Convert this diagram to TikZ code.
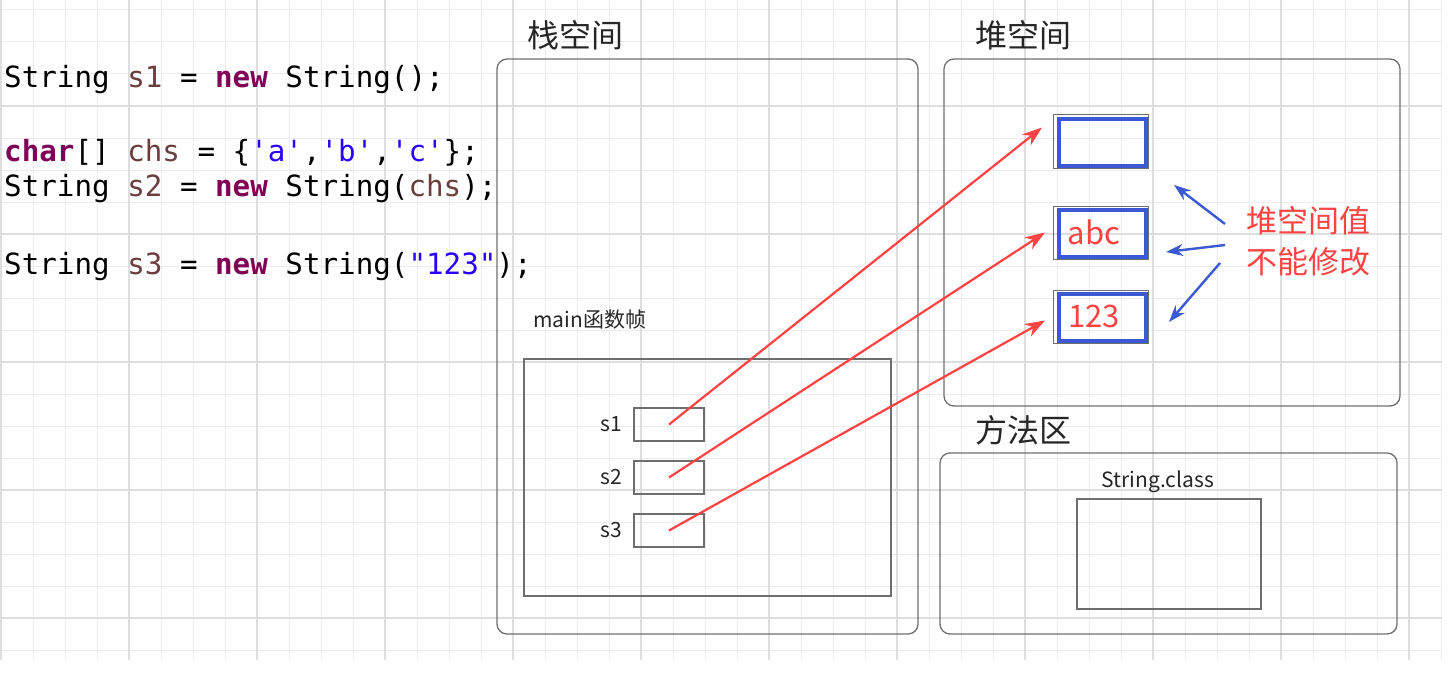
\documentclass[tikz,border=0pt]{standalone}
\usepackage{fontspec}
\setmainfont{Noto Sans CJK SC}
\newfontfamily\codefont{DejaVu Sans Mono}
\usetikzlibrary{positioning, arrows.meta}

\definecolor{codekw}{RGB}{127,0,85}
\definecolor{codevar}{RGB}{106,62,62}
\definecolor{codelit}{RGB}{42,0,255}
\definecolor{boxgray}{RGB}{110,110,110}
\definecolor{linkred}{RGB}{255,66,66}
\definecolor{heapblue}{RGB}{59,89,210}
\definecolor{gridminor}{RGB}{236,236,236}
\definecolor{gridmajor}{RGB}{222,222,222}

\newcommand{\kwd}[1]{\textcolor{codekw}{\bfseries #1}}
\newcommand{\vrb}[1]{\textcolor{codevar}{#1}}
\newcommand{\lit}[1]{\textcolor{codelit}{#1}}
\newcommand{\qt}{\textquotesingle}

\tikzset{
code/.style={anchor=base west, inner sep=0, font=\codefont\fontsize{29.2bp}{32bp}\selectfont},
title/.style={anchor=west, inner sep=0, font=\fontsize{32bp}{36bp}\selectfont, text=black!85},
small/.style={inner sep=0, font=\fontsize{21bp}{24bp}\selectfont, text=black!85},
region/.style={draw=boxgray, line width=1.3bp, rounded corners=10bp},
plain/.style={draw=boxgray, line width=1.3bp},
slot/.style={plain, minimum width=70bp, minimum height=33bp, inner sep=0},
cell/.style={draw=boxgray, line width=1bp, minimum width=95bp, minimum height=53bp, inner sep=0},
link/.style={draw=linkred, line width=2.2bp, -{Stealth[length=20bp, width=14bp]}},
hint/.style={draw=heapblue, line width=2.4bp, -{Stealth[length=17bp, width=12bp]}},
}

\begin{document}
\begin{tikzpicture}[x=1bp, y=-1bp]
\useasboundingbox (0,0) rectangle (1447,682);

% grid
\foreach \x in {1,33,...,1441}
\draw[gridminor, line width=1bp] (\x,0) -- (\x,660);
\foreach \y in {10,42,...,650}
\draw[gridminor, line width=1bp] (0,\y) -- (1442,\y);
\foreach \x in {1,129,...,1409}
\draw[gridmajor, line width=1.3bp] (\x,0) -- (\x,660);
\foreach \y in {106,234,...,618}
\draw[gridmajor, line width=1.3bp] (0,\y) -- (1442,\y);

% code
\node (c1) [code] at (4,88) {String \vrb{s1} = \kwd{new} String();};
\node (c2) [code] at (4,161) {\kwd{char}[] \vrb{chs} = \{\lit{\qt a\qt},\lit{\qt b\qt},\lit{\qt c\qt}\};};
\node (c3) [code] at (4,196) {String \vrb{s2} = \kwd{new} String(\vrb{chs});};
\node (c4) [code] at (4,274) {String \vrb{s3} = \kwd{new} String(\lit{"123"});};

% stack
\node (stack) [region, minimum width=421bp, minimum height=575bp] at (707.5,346.5) {};
\node (stackt) [title] at (527,35) {栈空间};
\node (frame) [plain, minimum width=367bp, minimum height=237bp] at (707.5,477.5) {};
\node (framet) [small, anchor=west] at (533,320) {main函数帧};

\foreach \i/\y in {1/424.5, 2/477.5, 3/530.5} {
\node (s\i) [slot] at (669,\y) {};
\node [small, left=11bp of s\i] {s\i};
}

% heap
\node (heap) [region, minimum width=456bp, minimum height=347bp] at (1172,232.5) {};
\node (heapt) [title] at (975,35) {堆空间};

\foreach \i/\y/\v in {1/141.5/{}, 2/232.5/abc, 3/316.5/123} {
\node (h\i) [cell] at (1101,\y) {};
\draw[heapblue, line width=4bp] ([xshift=5.5bp,yshift=-4.5bp]h\i.north west) rectangle ([xshift=-3bp,yshift=2.5bp]h\i.south east);
\node [inner sep=0, text=linkred, font=\fontsize{31bp}{34bp}\selectfont] at ([xshift=-7bp]h\i.center) {\v};
}

\node (note) [anchor=west, inner sep=0, align=left, text=linkred,
font=\fontsize{31bp}{41bp}\selectfont] at (1246,241) {堆空间值\\不能修改};

% method area
\node (meth) [region, minimum width=457bp, minimum height=181bp] at (1168.5,543.5) {};
\node (metht) [title] at (975,430) {方法区};
\node (cls) [plain, minimum width=184bp, minimum height=110bp] at (1169,554) {};
\node [small, above=5bp of cls, xshift=-11bp] {String.class};

% references
\draw[link] (s1.center) -- ([xshift=-11bp,yshift=14bp]h1.west);
\draw[link] (s2.center) -- ([xshift=-8bp]h2.west);
\draw[link] (s3.center) -- ([xshift=-8bp,yshift=-4bp]h3.west);

\draw[hint] ([xshift=-21bp,yshift=17bp]note.west) -- ([xshift=-72bp,yshift=56bp]note.west);
\draw[hint] ([xshift=-21bp,yshift=-4bp]note.west) -- ([xshift=-80bp,yshift=-11bp]note.west);
\draw[hint] ([xshift=-26bp,yshift=-22bp]note.west) -- ([xshift=-77bp,yshift=-81bp]note.west);

\end{tikzpicture}
\end{document}
